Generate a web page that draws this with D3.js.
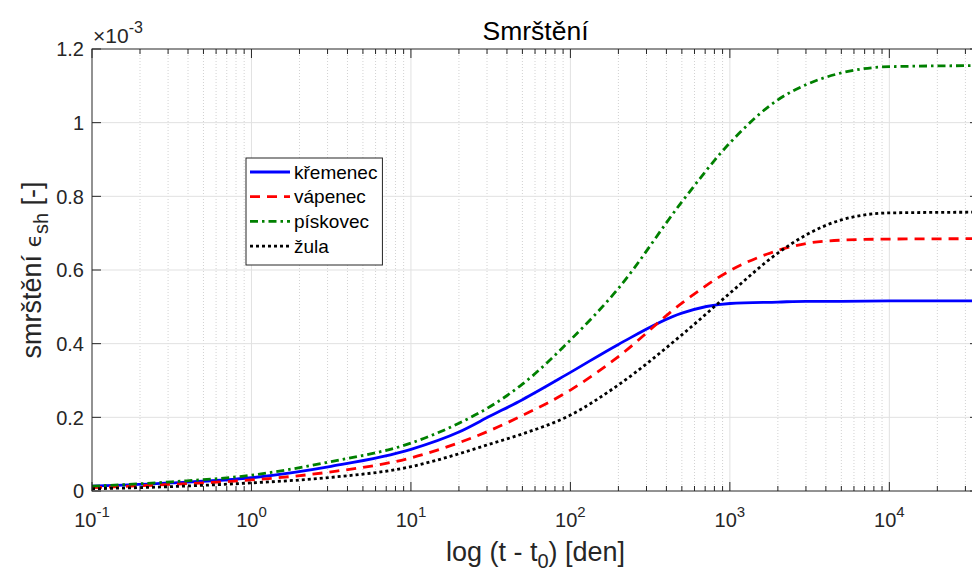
<!DOCTYPE html>
<html>
<head>
<meta charset="utf-8">
<script src="https://cdnjs.cloudflare.com/ajax/libs/d3/7.8.5/d3.min.js"></script>
<style>
body { margin: 0; background: #fff; }
svg { display: block; font-family: "Liberation Sans", Arial, Helvetica, sans-serif; }
</style>
</head>
<body>
<svg id="chart" width="972" height="571"></svg>
<script>
// time (days) and shrinkage values (x 1e-3)
var times    = [0.1, 0.316, 1, 3.16, 10, 20, 31.6, 50, 100, 200, 500, 1000, 2000, 3000, 5000, 10000, 36500];
var kremenec = [0.013, 0.022, 0.036, 0.067, 0.113, 0.160, 0.204, 0.248, 0.322, 0.398, 0.483, 0.509, 0.513, 0.515, 0.515, 0.516, 0.516];
var vapenec  = [0.009, 0.018, 0.030, 0.052, 0.090, 0.131, 0.165, 0.205, 0.274, 0.365, 0.510, 0.598, 0.653, 0.672, 0.681, 0.684, 0.685];
var piskovec = [0.013, 0.025, 0.043, 0.080, 0.130, 0.184, 0.230, 0.290, 0.410, 0.550, 0.785, 0.945, 1.062, 1.103, 1.135, 1.152, 1.155];
var zula     = [0.006, 0.012, 0.022, 0.037, 0.066, 0.101, 0.128, 0.155, 0.206, 0.288, 0.424, 0.537, 0.646, 0.695, 0.736, 0.755, 0.757];

var seriesNames = ["křemenec", "vápenec", "pískovec", "žula"];
var yTicks = [0, 0.2, 0.4, 0.6, 0.8, 1, 1.2];
var xMajor = [0.1, 1, 10, 100, 1000, 10000];
var xExp = ["-1", "0", "1", "2", "3", "4"];

var series = [
  {name: seriesNames[0], values: kremenec, color: "#0000ff", dash: null},
  {name: seriesNames[1], values: vapenec,  color: "#ff0000", dash: "10,7"},
  {name: seriesNames[2], values: piskovec, color: "#008000", dash: "8,4,2.5,4"},
  {name: seriesNames[3], values: zula,     color: "#000000", dash: "3,3"}
];

var pLeft = 92, pRight = 979, pTop = 49, pBottom = 491;
var axisColor = "#262626";

var svg = d3.select("#chart");

var x = d3.scaleLog().domain([0.1, 36500]).range([pLeft, pRight]);
var y = d3.scaleLinear().domain([0, 1.2]).range([pBottom, pTop]);

// minor ticks 2..9 in every decade
var xMinor = [];
xMajor.forEach(function(d) {
  for (var k = 2; k <= 9; k++) {
    if (d * k < 36500) xMinor.push(d * k);
  }
});

var grid = svg.append("g");

grid.selectAll(".minor")
    .data(xMinor)
    .enter().append("line")
    .attr("x1", function(d) { return x(d); })
    .attr("x2", function(d) { return x(d); })
    .attr("y1", pTop).attr("y2", pBottom)
    .attr("stroke", "#d2d2d2")
    .attr("stroke-dasharray", "1,2");

grid.selectAll(".majorx")
    .data(xMajor.slice(1))
    .enter().append("line")
    .attr("x1", function(d) { return x(d); })
    .attr("x2", function(d) { return x(d); })
    .attr("y1", pTop).attr("y2", pBottom)
    .attr("stroke", "#e1e1e1");

grid.selectAll(".majory")
    .data(yTicks.slice(1, -1))
    .enter().append("line")
    .attr("x1", pLeft).attr("x2", pRight)
    .attr("y1", function(d) { return y(d); })
    .attr("y2", function(d) { return y(d); })
    .attr("stroke", "#e1e1e1");

// curves
var line = d3.line()
    .x(function(d) { return x(d[0]); })
    .y(function(d) { return y(d[1]); })
    .curve(d3.curveMonotoneX);

svg.append("defs").append("clipPath").attr("id", "clip")
  .append("rect").attr("x", pLeft).attr("y", pTop)
  .attr("width", pRight - pLeft).attr("height", pBottom - pTop);

svg.append("g").attr("clip-path", "url(#clip)")
  .selectAll("path")
  .data(series)
  .enter().append("path")
    .attr("d", function(s) { return line(d3.zip(times, s.values)); })
    .attr("fill", "none")
    .attr("stroke", function(s) { return s.color; })
    .attr("stroke-width", 2.8)
    .attr("stroke-dasharray", function(s) { return s.dash; });

// axes box and ticks (inward, on all four sides like matlab)
var box = svg.append("g").attr("stroke", axisColor).attr("stroke-width", 1);

box.append("rect")
    .attr("x", pLeft).attr("y", pTop)
    .attr("width", pRight - pLeft).attr("height", pBottom - pTop)
    .attr("fill", "none");

var tickMajor = 9, tickMinor = 5;

xMajor.concat(xMinor).forEach(function(d) {
  var len = xMajor.indexOf(d) >= 0 ? tickMajor : tickMinor;
  box.append("line").attr("x1", x(d)).attr("x2", x(d)).attr("y1", pBottom).attr("y2", pBottom - len);
  box.append("line").attr("x1", x(d)).attr("x2", x(d)).attr("y1", pTop).attr("y2", pTop + len);
});

yTicks.forEach(function(d) {
  box.append("line").attr("x1", pLeft).attr("x2", pLeft + tickMajor).attr("y1", y(d)).attr("y2", y(d));
  box.append("line").attr("x1", pRight).attr("x2", pRight - tickMajor).attr("y1", y(d)).attr("y2", y(d));
});

// y tick labels
svg.append("g").selectAll("text")
    .data(yTicks)
    .enter().append("text")
    .attr("x", pLeft - 8)
    .attr("y", function(d) { return y(d); })
    .attr("dy", "0.36em")
    .attr("text-anchor", "end")
    .attr("font-size", 20)
    .attr("fill", axisColor)
    .text(function(d) { return d3.format("~g")(d); });

// x tick labels 10^n
var xl = svg.append("g").selectAll("text")
    .data(xMajor)
    .enter().append("text")
    .attr("x", function(d) { return x(d); })
    .attr("y", pBottom + 36)
    .attr("text-anchor", "middle")
    .attr("font-size", 20)
    .attr("fill", axisColor);
xl.append("tspan").text("10");
xl.append("tspan")
    .attr("dy", -10)
    .attr("font-size", 15)
    .text(function(d, i) { return xExp[i]; });

// exponent of the y axis
var ex = svg.append("text")
    .attr("x", pLeft + 1).attr("y", 43)
    .attr("font-size", 21)
    .attr("fill", axisColor);
ex.append("tspan").text("×10");
ex.append("tspan").attr("dy", -10).attr("font-size", 16).text("-3");

// title
svg.append("text")
    .attr("x", (pLeft + pRight) / 2).attr("y", 40)
    .attr("text-anchor", "middle")
    .attr("font-size", 26.5)
    .attr("fill", "#000")
    .text("Smrštění");

// x label
var xt = svg.append("text")
    .attr("x", (pLeft + pRight) / 2).attr("y", 561)
    .attr("text-anchor", "middle")
    .attr("font-size", 27)
    .attr("fill", axisColor);
xt.append("tspan").text("log (t - t");
xt.append("tspan").attr("dy", 7).attr("font-size", 20).text("0");
xt.append("tspan").attr("dy", -7).text(") [den]");

// y label
var yt = svg.append("text")
    .attr("transform", "translate(41," + ((pTop + pBottom) / 2) + ") rotate(-90)")
    .attr("text-anchor", "middle")
    .attr("font-size", 27)
    .attr("fill", axisColor);
yt.append("tspan").text("smrštění ");
yt.append("tspan").attr("font-family", "DejaVu Sans").attr("font-size", 22).text("ϵ");
yt.append("tspan").attr("dy", 7).attr("font-size", 20).text("sh");
yt.append("tspan").attr("dy", -7).text(" [-]");

// legend
var lg = svg.append("g");
var lgX = 246, lgY = 158, rowH = 24.7;

var lgRect = lg.append("rect")
    .attr("x", lgX).attr("y", lgY)
    .attr("height", 107)
    .attr("fill", "#fff")
    .attr("stroke", axisColor)
    .attr("stroke-width", 1);

var rows = lg.selectAll(".row")
    .data(series)
    .enter().append("g")
    .attr("transform", function(d, i) { return "translate(0," + (lgY + 14 + i * rowH) + ")"; });

rows.append("line")
    .attr("x1", lgX + 4).attr("x2", lgX + 44)
    .attr("stroke", function(s) { return s.color; })
    .attr("stroke-width", 2.8)
    .attr("stroke-dasharray", function(s) { return s.dash; });

var labels = rows.append("text")
    .attr("x", lgX + 48)
    .attr("dy", "0.35em")
    .attr("font-size", 19)
    .attr("fill", "#000")
    .text(function(s) { return s.name; });

var maxW = d3.max(labels.nodes(), function(n) { return n.getComputedTextLength(); });
lgRect.attr("width", 48 + maxW + 5);
</script>
</body>
</html>
